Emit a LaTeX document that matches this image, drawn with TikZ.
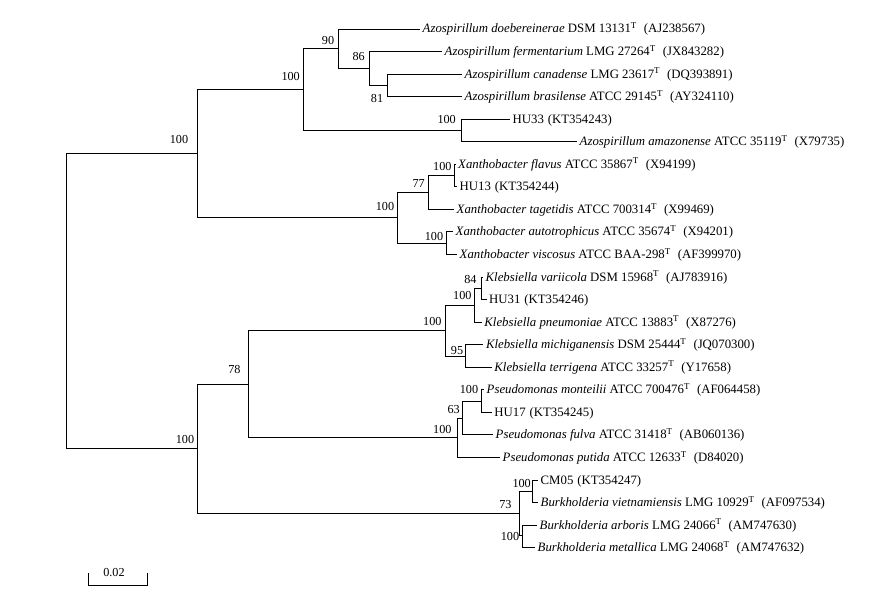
\documentclass[tikz,border=0pt]{standalone}
\usepackage{fontspec}
\setmainfont{Liberation Serif}
\newcommand{\supT}{\textsuperscript{T}}
\newcommand{\accn}[1]{\hspace{0.55em}(#1)}
\newcommand{\acch}[1]{\hspace{0.3em}(#1)}
\begin{document}
\begin{tikzpicture}[x=1pt,y=-1pt,
  br/.style={line width=0.9pt},
  leaf/.style={anchor=base west, inner sep=0pt, xshift=2.5pt, yshift=-4pt, font=\fontsize{12.8}{14}\selectfont},
  bs/.style={anchor=east, inner sep=0pt, font=\fontsize{12.2}{14}\selectfont}]
\useasboundingbox (0,0) rectangle (894,596);
% internal nodes
\coordinate (root) at (66.7,301.3);
\coordinate (nAlpha) at (197.5,153.7);
\coordinate (nBeta) at (197.5,448.9);
\coordinate (nAzo) at (303.3,89.6);
\coordinate (n90) at (338.7,48.7);
\coordinate (n86) at (369.3,68.5);
\coordinate (n81) at (387.3,85.4);
\coordinate (nH33) at (461.7,130.5);
\coordinate (nX) at (397.3,217.9);
\coordinate (n77) at (428.3,192.5);
\coordinate (nFl) at (454.3,175.6);
\coordinate (nXv) at (446.7,243.2);
\coordinate (n78) at (248.3,384.2);
\coordinate (nK) at (445.7,330.6);
\coordinate (nK1) at (474.3,305.2);
\coordinate (n84) at (481,288.3);
\coordinate (n95) at (465,356);
\coordinate (nP) at (457.3,437.7);
\coordinate (n63) at (462.7,418);
\coordinate (nP1) at (481.7,401);
\coordinate (n73) at (519.3,513.6);
\coordinate (nCM) at (532.7,491.3);
\coordinate (nAM) at (522.7,535.9);
% leaf ends
\coordinate (L0) at (420,29.0);
\coordinate (L1) at (442,51.55);
\coordinate (L2) at (462,74.1);
\coordinate (L3) at (462,96.65);
\coordinate (L4) at (510,119.2);
\coordinate (L5) at (577,141.75);
\coordinate (L6) at (455.5,164.3);
\coordinate (L7) at (457,186.85);
\coordinate (L8) at (454,209.4);
\coordinate (L9) at (453,231.95);
\coordinate (L10) at (457,254.5);
\coordinate (L11) at (483,277.05);
\coordinate (L12) at (486.5,299.6);
\coordinate (L13) at (481.7,322.15);
\coordinate (L14) at (483.3,344.7);
\coordinate (L15) at (491.7,367.25);
\coordinate (L16) at (484,389.8);
\coordinate (L17) at (491.7,412.35);
\coordinate (L18) at (493,434.9);
\coordinate (L19) at (500,457.45);
\coordinate (L20) at (538,480.0);
\coordinate (L21) at (538,502.55);
\coordinate (L22) at (537,525.1);
\coordinate (L23) at (535,547.65);
% branches
\foreach \p/\c in {root/nAlpha, root/nBeta,
  nAlpha/nAzo, nAlpha/nX, nAzo/n90, nAzo/nH33, n90/L0, n90/n86,
  n86/L1, n86/n81, n81/L2, n81/L3, nH33/L4, nH33/L5,
  nX/n77, nX/nXv, n77/nFl, n77/L8, nFl/L6, nFl/L7, nXv/L9, nXv/L10,
  nBeta/n78, nBeta/n73, n78/nK, n78/nP, nK/nK1, nK/n95,
  nK1/n84, nK1/L13, n84/L11, n84/L12, n95/L14, n95/L15,
  nP/n63, nP/L19, n63/nP1, n63/L18, nP1/L16, nP1/L17,
  n73/nCM, n73/nAM, nCM/L20, nCM/L21, nAM/L22, nAM/L23}
  \draw[br] (\p) |- (\c);
% leaf labels
\node[leaf] (t0) at (L0) {\textit{Azospirillum doebereinerae} DSM 13131\supT\accn{AJ238567}};
\node[leaf] (t1) at (L1) {\textit{Azospirillum fermentarium} LMG 27264\supT\accn{JX843282}};
\node[leaf] (t2) at (L2) {\textit{Azospirillum canadense} LMG 23617\supT\accn{DQ393891}};
\node[leaf] (t3) at (L3) {\textit{Azospirillum brasilense} ATCC 29145\supT\accn{AY324110}};
\node[leaf] (t4) at (L4) {HU33\acch{KT354243}};
\node[leaf] (t5) at (L5) {\textit{Azospirillum amazonense} ATCC 35119\supT\accn{X79735}};
\node[leaf] (t6) at (L6) {\textit{Xanthobacter flavus} ATCC 35867\supT\accn{X94199}};
\node[leaf] (t7) at (L7) {HU13\acch{KT354244}};
\node[leaf] (t8) at (L8) {\textit{Xanthobacter tagetidis} ATCC 700314\supT\accn{X99469}};
\node[leaf] (t9) at (L9) {\textit{Xanthobacter autotrophicus} ATCC 35674\supT\accn{X94201}};
\node[leaf] (t10) at (L10) {\textit{Xanthobacter viscosus} ATCC BAA-298\supT\accn{AF399970}};
\node[leaf] (t11) at (L11) {\textit{Klebsiella variicola} DSM 15968\supT\accn{AJ783916}};
\node[leaf] (t12) at (L12) {HU31\acch{KT354246}};
\node[leaf] (t13) at (L13) {\textit{Klebsiella pneumoniae} ATCC 13883\supT\accn{X87276}};
\node[leaf] (t14) at (L14) {\textit{Klebsiella michiganensis} DSM 25444\supT\accn{JQ070300}};
\node[leaf] (t15) at (L15) {\textit{Klebsiella terrigena} ATCC 33257\supT\accn{Y17658}};
\node[leaf] (t16) at (L16) {\textit{Pseudomonas monteilii} ATCC 700476\supT\accn{AF064458}};
\node[leaf] (t17) at (L17) {HU17\acch{KT354245}};
\node[leaf] (t18) at (L18) {\textit{Pseudomonas fulva} ATCC 31418\supT\accn{AB060136}};
\node[leaf] (t19) at (L19) {\textit{Pseudomonas putida} ATCC 12633\supT\accn{D84020}};
\node[leaf] (t20) at (L20) {CM05\acch{KT354247}};
\node[leaf] (t21) at (L21) {\textit{Burkholderia vietnamiensis} LMG 10929\supT\accn{AF097534}};
\node[leaf] (t22) at (L22) {\textit{Burkholderia arboris} LMG 24066\supT\accn{AM747630}};
\node[leaf] (t23) at (L23) {\textit{Burkholderia metallica} LMG 24068\supT\accn{AM747632}};
% bootstrap values
\node[bs] (bAlpha) at (188.3,140) {100};
\node[bs] (bBeta) at (194.3,439) {100};
\node[bs] (bAzo) at (300,77) {100};
\node[bs] (b90) at (334.3,41) {90};
\node[bs] (b86) at (365,56.7) {86};
\node[bs] (b81) at (383.3,98.3) {81};
\node[bs] (bH33) at (456,120) {100};
\node[bs] (bX) at (394.3,206.7) {100};
\node[bs] (b77) at (425,183.3) {77};
\node[bs] (bFl) at (451.7,166.7) {100};
\node[bs] (bXv) at (443.3,236.7) {100};
\node[bs] (b78) at (240.7,370) {78};
\node[bs] (bK) at (441.7,321.7) {100};
\node[bs] (bK1) at (471.7,296) {100};
\node[bs] (b84) at (476.7,280) {84};
\node[bs] (b95) at (463.3,350.7) {95};
\node[bs] (bP) at (451.7,430) {100};
\node[bs] (b63) at (460,409.3) {63};
\node[bs] (bP1) at (478.3,390) {100};
\node[bs] (bCM) at (531,483.3) {100};
\node[bs] (b73) at (511.7,505) {73};
\node[bs] (bAM) at (519.3,536.7) {100};
% scale bar
\coordinate (sbL) at (88.3,585);
\coordinate (sbR) at (147.7,585);
\coordinate (sbLt) at (88.3,573);
\coordinate (sbRt) at (147.7,573);
\draw[br] (sbLt) -- (sbL) -- (sbR) -- (sbRt);
\node[bs, anchor=center] (sbT) at (114,573) {0.02};
\end{tikzpicture}
\end{document}
